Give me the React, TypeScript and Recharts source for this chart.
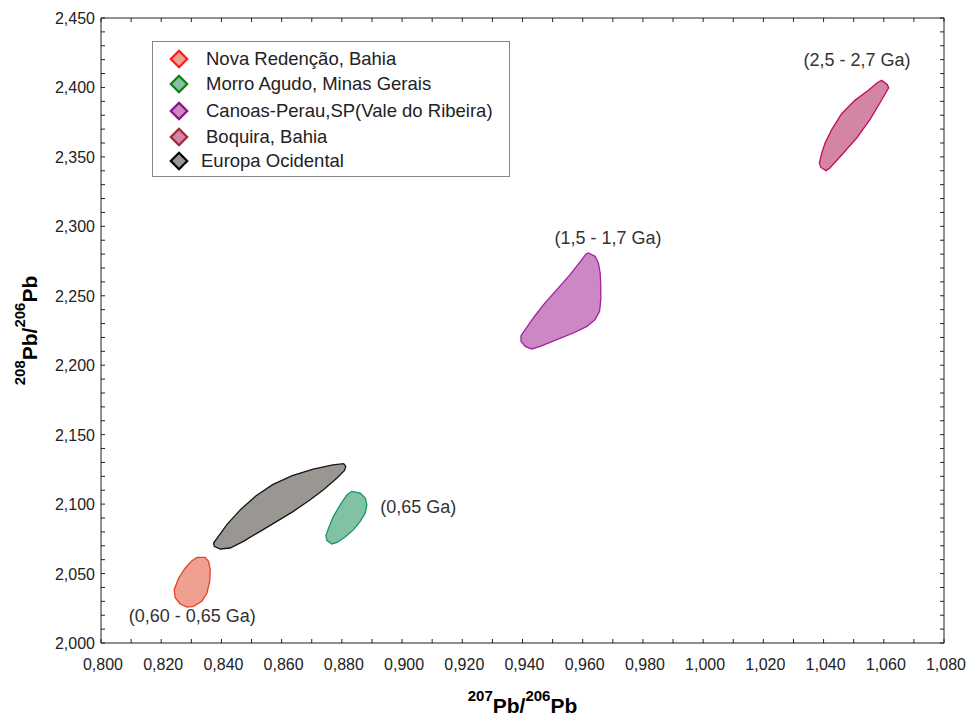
import { ScatterChart, Scatter, XAxis, YAxis, Legend } from "recharts";

const FONT = "'Liberation Sans', Arial, Helvetica, sans-serif";
const INK = "#222";

// eixos
const xMajorTicks = [0.8, 0.82, 0.84, 0.86, 0.88, 0.9, 0.92, 0.94, 0.96, 0.98, 1.0, 1.02, 1.04, 1.06, 1.08];
const xMinorTicks = [0.81, 0.83, 0.85, 0.87, 0.89, 0.91, 0.93, 0.95, 0.97, 0.99, 1.01, 1.03, 1.05, 1.07];
const yMajorTicks = [2.0, 2.05, 2.1, 2.15, 2.2, 2.25, 2.3, 2.35, 2.4, 2.45];
const yMinorTicks = [
  2.01, 2.02, 2.03, 2.04, 2.06, 2.07, 2.08, 2.09, 2.11, 2.12, 2.13, 2.14,
  2.16, 2.17, 2.18, 2.19, 2.21, 2.22, 2.23, 2.24, 2.26, 2.27, 2.28, 2.29,
  2.31, 2.32, 2.33, 2.34, 2.36, 2.37, 2.38, 2.39, 2.41, 2.42, 2.43, 2.44,
];

// Nova Redenção, Bahia
const novaX = [0.8319, 0.8346, 0.8357, 0.8363, 0.8361, 0.8352, 0.8335, 0.8307, 0.8286, 0.8263, 0.8247, 0.8243, 0.8258, 0.828, 0.8302];
const novaY = [2.0616, 2.0616, 2.0588, 2.0528, 2.0444, 2.036, 2.03, 2.0264, 2.0259, 2.0281, 2.0324, 2.0384, 2.0468, 2.054, 2.0593];

// Morro Agudo, Minas Gerais
const morroX = [0.8833, 0.8861, 0.8878, 0.8883, 0.8878, 0.8861, 0.8839, 0.8811, 0.8784, 0.8767, 0.875, 0.8747, 0.8756, 0.8772, 0.8795, 0.8817];
const morroY = [2.1092, 2.108, 2.1044, 2.0996, 2.0936, 2.0876, 2.0816, 2.0763, 2.0724, 2.0713, 2.0739, 2.0773, 2.0828, 2.0912, 2.0996, 2.1068];

// Canoas-Perau, SP
const canoasX = [0.9619, 0.9641, 0.9652, 0.9658, 0.966, 0.966, 0.9656, 0.9641, 0.9614, 0.9569, 0.9514, 0.9459, 0.9431, 0.9409, 0.9395, 0.9395, 0.9409, 0.9436, 0.947, 0.9514, 0.9558, 0.9597, 0.9611];
const canoasY = [2.2808, 2.2784, 2.2736, 2.2664, 2.2568, 2.2472, 2.2388, 2.2328, 2.228, 2.2232, 2.2184, 2.2136, 2.2117, 2.2136, 2.2172, 2.2213, 2.2256, 2.234, 2.2436, 2.2544, 2.2652, 2.276, 2.2801];

// Boquira, Bahia
const boquiraX = [1.0593, 1.0612, 1.0616, 1.0587, 1.0554, 1.051, 1.0466, 1.0421, 1.0408, 1.0391, 1.0386, 1.0394, 1.0405, 1.0427, 1.046, 1.0504, 1.0549, 1.0579];
const boquiraY = [2.4051, 2.402, 2.3996, 2.3888, 2.3768, 2.3636, 2.3528, 2.342, 2.3401, 2.3424, 2.3456, 2.3528, 2.36, 2.3696, 2.3811, 2.3907, 2.3979, 2.4036];

// Europa Ocidental
const europaX = [0.8806, 0.8813, 0.8809, 0.8784, 0.8739, 0.8695, 0.8639, 0.8584, 0.8529, 0.8473, 0.8429, 0.8396, 0.8376, 0.8374, 0.839, 0.8418, 0.8463, 0.8515, 0.857, 0.8635, 0.8705, 0.8770];
const europaY = [2.1291, 2.1272, 2.1243, 2.1188, 2.1104, 2.1032, 2.0948, 2.0876, 2.0804, 2.0732, 2.0684, 2.0677, 2.0696, 2.072, 2.0768, 2.0852, 2.0960, 2.1060, 2.1140, 2.1205, 2.1252, 2.1282];

// idades
const ageText = ["(2,5 - 2,7 Ga)", "(1,5 - 1,7 Ga)", "(0,65 Ga)", "(0,60 - 0,65 Ga)"];
const ageX = [1.0511, 0.9684, 0.9054, 0.8303];
const ageY = [2.42, 2.2918, 2.0981, 2.0197];

const zip = (xs: number[], ys: number[]) => xs.map((x, i) => ({ x, y: ys[i] }));

const SERIES = [
  { name: "Nova Redenção, Bahia", data: zip(novaX, novaY), fill: "#f0a090", stroke: "#e8402a", legendStroke: "#ff1a1a" },
  { name: "Morro Agudo, Minas Gerais", data: zip(morroX, morroY), fill: "#80c2a2", stroke: "#1a9468", legendStroke: "#108010" },
  { name: "Canoas-Perau,SP(Vale do Ribeira)", data: zip(canoasX, canoasY), fill: "#cc88c4", stroke: "#a020a0", legendStroke: "#881088" },
  { name: "Boquira, Bahia", data: zip(boquiraX, boquiraY), fill: "#d484a4", stroke: "#c0105a", legendStroke: "#a02830" },
  { name: "Europa Ocidental", data: zip(europaX, europaY), fill: "#9a9692", stroke: "#151515", legendStroke: "#000" },
];

const ageData = ageText.map((t, i) => ({ x: ageX[i], y: ageY[i], text: t }));

const near = (list: number[], v: number) => list.some((m) => Math.abs(m - v) < 1e-6);
const fmt = (v: number) => v.toFixed(3).replace(".", ",");

const xTicks = [...xMajorTicks, ...xMinorTicks].sort((a, b) => a - b);
const yTicks = [...yMajorTicks, ...yMinorTicks].sort((a, b) => a - b);

function BottomTick({ x, y, payload }: any) {
  const v = payload.value;
  return (
    <g>
      <line x1={x} y1={y} x2={x} y2={y - 4} stroke={INK} />
      {near(xMajorTicks, v) && (
        <text x={x + 2} y={y + 27} textAnchor="middle" fontSize={16} fill={INK} fontFamily={FONT}>
          {fmt(v)}
        </text>
      )}
    </g>
  );
}

function TopTick({ x, y }: any) {
  return <line x1={x} y1={y} x2={x} y2={y + 4} stroke={INK} />;
}

function LeftTick({ x, y, payload }: any) {
  const v = payload.value;
  return (
    <g>
      <line x1={x} y1={y} x2={x + 4} y2={y} stroke={INK} />
      {near(yMajorTicks, v) && (
        <text x={x - 6} y={y + 6} textAnchor="end" fontSize={16} fill={INK} fontFamily={FONT}>
          {fmt(v)}
        </text>
      )}
    </g>
  );
}

function RightTick({ x, y }: any) {
  return <line x1={x} y1={y} x2={x - 4} y2={y} stroke={INK} />;
}

function XTitle({ viewBox }: any) {
  const cx = viewBox.x + viewBox.width / 2;
  return (
    <text x={cx} y={viewBox.y + 70} textAnchor="middle" fontFamily={FONT} fontWeight="bold" fontSize={21} fill="#000">
      <tspan fontSize={15} dy={-12}>207</tspan>
      <tspan dy={12}>Pb/</tspan>
      <tspan fontSize={15} dy={-12}>206</tspan>
      <tspan dy={12}>Pb</tspan>
    </text>
  );
}

function YTitle({ viewBox }: any) {
  const bx = viewBox.x - 3;
  const cy = viewBox.y + viewBox.height / 2;
  return (
    <text x={bx} y={cy} transform={`rotate(-90, ${bx}, ${cy})`} textAnchor="middle" fontFamily={FONT} fontWeight="bold" fontSize={21} fill="#000">
      <tspan fontSize={15} dy={-12}>208</tspan>
      <tspan dy={12}>Pb/</tspan>
      <tspan fontSize={15} dy={-12}>206</tspan>
      <tspan dy={12}>Pb</tspan>
    </text>
  );
}

function AgeLabel({ cx, cy, payload }: any) {
  return (
    <text x={cx} y={cy} dy={6} textAnchor="middle" fontFamily={FONT} fontSize={18} fill="#333">
      {payload.text}
    </text>
  );
}

const NoDot = () => <g />;

function LegendBox() {
  const rowCenters = [17, 42, 69, 95, 119];
  return (
    <div
      style={{
        position: "relative",
        width: 358,
        height: 136,
        border: "1px solid #888",
        boxSizing: "border-box",
        background: "#fff",
        fontFamily: FONT,
        fontSize: 18.5,
        color: INK,
      }}
    >
      {SERIES.map((s, i) => (
        <div key={s.name}>
          <svg
            width={20}
            height={20}
            style={{ position: "absolute", left: 16, top: rowCenters[i] - 10 }}
          >
            <path d="M10 1.8 L18.2 10 L10 18.2 L1.8 10 Z" fill={s.fill} stroke={s.legendStroke} strokeWidth={2.2} />
          </svg>
          <span
            style={{
              position: "absolute",
              left: i === 4 ? 48 : 53,
              top: rowCenters[i] - 11,
              lineHeight: "22px",
              whiteSpace: "nowrap",
            }}
          >
            {s.name}
          </span>
        </div>
      ))}
    </div>
  );
}

export default function App() {
  return (
    <div style={{ width: 969, height: 715 }}>
      <style>{"body{margin:0}"}</style>
      <ScatterChart width={969} height={715} margin={{ top: 13, right: 20, bottom: 22, left: 40 }}>
        <XAxis
          type="number"
          dataKey="x"
          domain={[0.8, 1.08]}
          ticks={xTicks}
          interval={0}
          tickSize={0}
          tickMargin={0}
          tickLine={false}
          tick={<BottomTick />}
          axisLine={{ stroke: INK }}
          height={50}
          allowDataOverflow
          label={<XTitle />}
        />
        <XAxis
          xAxisId="top"
          orientation="top"
          type="number"
          dataKey="x"
          domain={[0.8, 1.08]}
          ticks={xTicks}
          interval={0}
          tickSize={0}
          tickMargin={0}
          tickLine={false}
          tick={<TopTick />}
          axisLine={{ stroke: INK }}
          height={5}
          allowDataOverflow
        />
        <YAxis
          type="number"
          dataKey="y"
          domain={[2.0, 2.45]}
          ticks={yTicks}
          interval={0}
          tickSize={0}
          tickMargin={0}
          tickLine={false}
          tick={<LeftTick />}
          axisLine={{ stroke: INK }}
          width={61}
          allowDataOverflow
          label={<YTitle />}
        />
        <YAxis
          yAxisId="right"
          orientation="right"
          type="number"
          dataKey="y"
          domain={[2.0, 2.45]}
          ticks={yTicks}
          interval={0}
          tickSize={0}
          tickMargin={0}
          tickLine={false}
          tick={<RightTick />}
          axisLine={{ stroke: INK }}
          width={5}
          allowDataOverflow
        />
        {SERIES.map((s) => (
          <Scatter
            key={s.name}
            name={s.name}
            data={s.data}
            line={{ fill: s.fill, stroke: s.stroke, strokeWidth: 1.3 }}
            lineJointType="linearClosed"
            shape={NoDot}
            isAnimationActive={false}
          />
        ))}
        <Scatter data={ageData} shape={AgeLabel} isAnimationActive={false} legendType="none" />
        <Legend
          layout="vertical"
          align="center"
          verticalAlign="middle"
          content={<LegendBox />}
          wrapperStyle={{ left: 152, top: 41, width: 358, height: 136 }}
        />
      </ScatterChart>
    </div>
  );
}
